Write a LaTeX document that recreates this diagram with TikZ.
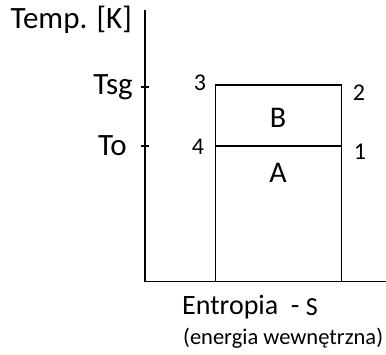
\documentclass[tikz,border=0pt]{standalone}
\usepackage{fontspec}
\setmainfont{Carlito}
\begin{document}
\begin{tikzpicture}[x=1pt,y=-1pt,
  axis/.style={line width=1.5pt},
  box/.style={line width=1.5pt},
  lbl/.style={inner sep=0pt,font=\fontsize{31}{34}\selectfont},
  let/.style={inner sep=0pt,font=\fontsize{30}{34}\selectfont},
  num/.style={inner sep=0pt,font=\fontsize{24}{28}\selectfont},
  ttl/.style={inner sep=0pt,font=\fontsize{28}{32}\selectfont},
  sub/.style={inner sep=0pt,font=\fontsize{22.5}{26}\selectfont}]
\useasboundingbox (0,0) rectangle (386,354);
% axes
\coordinate (otop) at (145,10);
\coordinate (orig) at (145,281.5);
\coordinate (xend) at (386,281.5);
\draw[axis] (otop) -- (orig) -- (xend);
% ticks
\coordinate (t1a) at (141,87); \coordinate (t1b) at (149,87);
\coordinate (t2a) at (141,146); \coordinate (t2b) at (149,146);
\draw[axis] (t1a) -- (t1b);
\draw[axis] (t2a) -- (t2b);
% rectangle
\coordinate (p3) at (215.5,85);
\coordinate (p2) at (341.5,85);
\coordinate (p4) at (215.5,146);
\coordinate (p1) at (341.5,146);
\coordinate (b4) at (215.5,281.5);
\coordinate (b1) at (341.5,281.5);
\draw[box] (b4) -- (p3) -- (p2) -- (b1);
\draw[box] (p4) -- (p1);
% labels
\node[lbl,anchor=east] (temp) at (132,20) {Temp. [K]};
\node[lbl,anchor=east] (tsg) at (133,87) {Tsg};
\node[lbl,anchor=east] (to) at (127,146) {To};
\node[num] (n3) at (200,83) {3};
\node[num] (n2) at (359,93) {2};
\node[num] (n4) at (198,147) {4};
\node[num] (n1) at (360,152) {1};
\node[let] (B) at (278,118) {B};
\node[let] (A) at (278,173) {A};
\node[ttl,anchor=west] (ent) at (182,307) {Entropia\ \ - \raisebox{-1pt}{\fontsize{26}{28}\selectfont S}};
\node[sub,anchor=west] (en) at (183,338) {(energia wewnętrzna)};
\end{tikzpicture}
\end{document}
